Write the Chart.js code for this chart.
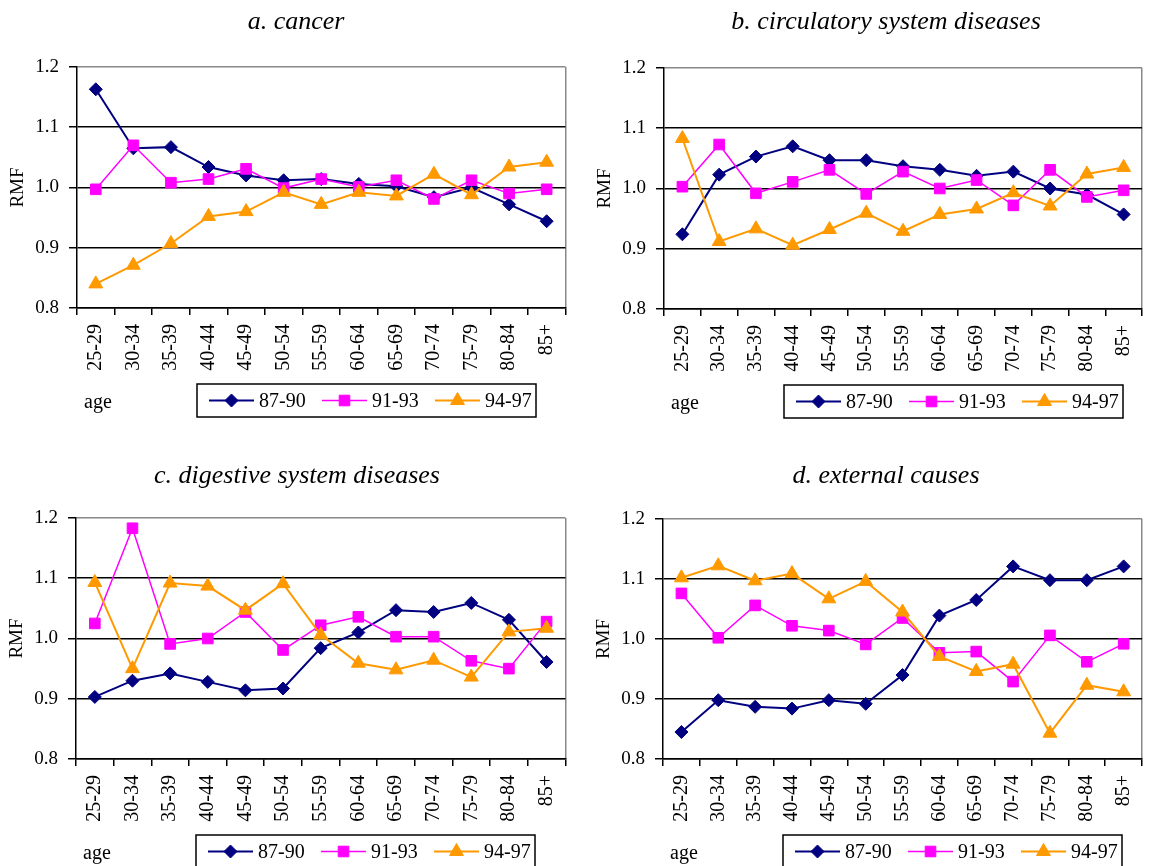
<!DOCTYPE html>
<html>
<head>
<meta charset="utf-8">
<script src="https://cdn.jsdelivr.net/npm/chart.js@4.4.1/dist/chart.umd.min.js"></script>
<style>
  html, body { margin: 0; padding: 0; background: #fff; }
  #wrap { position: relative; width: 1157px; height: 866px; overflow: hidden; }
  .panel { position: absolute; }
</style>
</head>
<body>
<div id="wrap">
  <div class="panel" style="left:0;top:0;width:580px;height:450px"><canvas id="chart-a"></canvas></div>
  <div class="panel" style="left:580px;top:0;width:577px;height:450px"><canvas id="chart-b"></canvas></div>
  <div class="panel" style="left:0;top:450px;width:580px;height:416px"><canvas id="chart-c"></canvas></div>
  <div class="panel" style="left:580px;top:450px;width:577px;height:416px"><canvas id="chart-d"></canvas></div>
</div>
<script>
const AGE_GROUPS = ['25-29', '30-34', '35-39', '40-44', '45-49', '50-54', '55-59',
  '60-64', '65-69', '70-74', '75-79', '80-84', '85+'];
const PERIODS = ['87-90', '91-93', '94-97'];
const Y_MIN = 0.8, Y_MAX = 1.2, Y_STEP = 0.1;

// a. cancer
const cancer8790 = [1.163, 1.065, 1.067, 1.034, 1.020, 1.012, 1.014, 1.006, 1.002, 0.984, 1.000, 0.972, 0.944];
const cancer9193 = [0.997, 1.070, 1.008, 1.014, 1.031, 0.999, 1.014, 1.001, 1.012, 0.981, 1.012, 0.990, 0.997];
const cancer9497 = [0.840, 0.871, 0.907, 0.952, 0.960, 0.992, 0.972, 0.992, 0.986, 1.022, 0.988, 1.034, 1.042];

// b. circulatory system diseases
const circ8790 = [0.924, 1.023, 1.053, 1.070, 1.047, 1.047, 1.037, 1.031, 1.021, 1.028, 1.000, 0.990, 0.957];
const circ9193 = [1.003, 1.073, 0.992, 1.011, 1.031, 0.991, 1.028, 1.000, 1.014, 0.972, 1.031, 0.986, 0.997];
const circ9497 = [1.083, 0.912, 0.933, 0.906, 0.932, 0.959, 0.929, 0.957, 0.966, 0.993, 0.971, 1.024, 1.035];

// c. digestive system diseases
const dig8790 = [0.903, 0.930, 0.942, 0.928, 0.914, 0.917, 0.984, 1.010, 1.047, 1.044, 1.059, 1.031, 0.961];
const dig9193 = [1.025, 1.183, 0.991, 1.000, 1.044, 0.981, 1.022, 1.036, 1.003, 1.003, 0.963, 0.950, 1.028];
const dig9497 = [1.093, 0.950, 1.092, 1.087, 1.047, 1.091, 1.006, 0.959, 0.948, 0.964, 0.936, 1.011, 1.017];

// d. external causes
const ext8790 = [0.845, 0.898, 0.887, 0.884, 0.898, 0.892, 0.940, 1.039, 1.065, 1.121, 1.098, 1.098, 1.121];
const ext9193 = [1.076, 1.002, 1.056, 1.022, 1.014, 0.991, 1.035, 0.977, 0.979, 0.929, 1.006, 0.962, 0.992];
const ext9497 = [1.102, 1.122, 1.097, 1.109, 1.067, 1.096, 1.045, 0.971, 0.946, 0.958, 0.843, 0.923, 0.912];

const SERIES_STYLE = [
  { color: '#000080', pointStyle: 'rectRot', radius: 6.5, width: 2 },
  { color: '#FF00FF', pointStyle: 'rect', radius: 7.5, width: 1.5 },
  { color: '#FF9900', pointStyle: 'triangle', radius: 8, width: 2 },
];

const SERIF = '"Liberation Serif", "Times New Roman", serif';

// panel frames, in each canvas' own pixels
const panels = [
  { id: 'chart-a', title: 'a. cancer', series: [cancer8790, cancer9193, cancer9497],
    w: 580, h: 450, plot: { left: 77, right: 572, top: 67, bottom: 308 }, titleX: 296, titleY: 29 },
  { id: 'chart-b', title: 'b. circulatory system diseases', series: [circ8790, circ9193, circ9497],
    w: 577, h: 450, plot: { left: 84, right: 574, top: 68, bottom: 309 }, titleX: 306, titleY: 29 },
  { id: 'chart-c', title: 'c. digestive system diseases', series: [dig8790, dig9193, dig9497],
    w: 580, h: 416, plot: { left: 76, right: 569, top: 68, bottom: 309 }, titleX: 297, titleY: 33 },
  { id: 'chart-d', title: 'd. external causes', series: [ext8790, ext9193, ext9497],
    w: 577, h: 416, plot: { left: 83, right: 573, top: 69, bottom: 309 }, titleX: 306, titleY: 33 },
];

const X_AXIS_H = 70;

const panelDecor = {
  id: 'panelDecor',
  afterDraw(chart, args, o) {
    const { ctx, chartArea } = chart;
    ctx.save();
    ctx.fillStyle = '#000';
    ctx.textBaseline = 'alphabetic';
    ctx.textAlign = 'center';
    ctx.font = 'italic 26px ' + SERIF;
    ctx.fillText(o.title, o.titleX, o.titleY);

    ctx.textAlign = 'left';
    ctx.font = '20px ' + SERIF;
    ctx.fillText('age', chartArea.left + 7, chartArea.bottom + 100);

    const bx = chartArea.left + 120, by = chartArea.bottom + 76, bw = 339, bh = 33;
    ctx.strokeStyle = '#000';
    ctx.lineWidth = 1.5;
    ctx.strokeRect(bx, by, bw, bh);

    chart.data.datasets.forEach((ds, i) => {
      const x0 = bx + 12 + i * 113;
      const cy = by + bh / 2;
      ctx.strokeStyle = ds.borderColor;
      ctx.lineWidth = ds.borderWidth;
      ctx.beginPath();
      ctx.moveTo(x0, cy);
      ctx.lineTo(x0 + 45, cy);
      ctx.stroke();
      ctx.fillStyle = ds.pointBackgroundColor;
      ctx.lineWidth = 1;
      Chart.helpers.drawPoint(ctx, { pointStyle: ds.pointStyle, radius: ds.pointRadius, borderWidth: 1, rotation: 0 }, x0 + 22.5, cy);
      ctx.fillStyle = '#000';
      ctx.fillText(ds.label, x0 + 50, by + 23);
    });
    ctx.restore();
  }
};
Chart.register(panelDecor);

function buildPanel(p) {
  return new Chart(document.getElementById(p.id), {
    type: 'line',
    data: {
      labels: AGE_GROUPS,
      datasets: p.series.map((values, i) => ({
        label: PERIODS[i],
        data: values,
        borderColor: SERIES_STYLE[i].color,
        backgroundColor: SERIES_STYLE[i].color,
        pointBackgroundColor: SERIES_STYLE[i].color,
        pointBorderColor: SERIES_STYLE[i].color,
        pointStyle: SERIES_STYLE[i].pointStyle,
        pointRadius: SERIES_STYLE[i].radius,
        pointBorderWidth: 1,
        borderWidth: SERIES_STYLE[i].width,
        tension: 0,
        fill: false,
        order: 3 - i,
      }))
    },
    options: {
      responsive: true,
      maintainAspectRatio: false,
      animation: false,
      events: [],
      layout: {
        padding: {
          left: 0,
          right: p.w - p.plot.right,
          top: p.plot.top,
          bottom: p.h - p.plot.bottom - X_AXIS_H
        }
      },
      scales: {
        x: {
          offset: true,
          afterFit: s => { s.height = X_AXIS_H; },
          grid: {
            offset: true,
            drawOnChartArea: true,
            color: c => c.type === 'tick' ? 'rgba(0,0,0,0)' : '#888',
            tickColor: '#000',
            tickLength: 7,
            lineWidth: 1.5
          },
          border: { color: '#000', width: 1.5 },
          ticks: {
            autoSkip: false,
            minRotation: 90,
            maxRotation: 90,
            padding: 9,
            color: '#000',
            font: { family: SERIF, size: 20 }
          }
        },
        y: {
          min: Y_MIN,
          max: Y_MAX,
          afterFit: s => { s.width = p.plot.left; },
          grid: {
            color: c => Math.abs(c.tick.value - Y_MAX) < 1e-6 ? '#888' : '#000',
            tickColor: '#000',
            tickLength: 8,
            lineWidth: 1.5
          },
          border: { color: '#000', width: 1.5 },
          ticks: {
            stepSize: Y_STEP,
            padding: 10,
            color: '#000',
            font: { family: SERIF, size: 19 },
            callback: v => v.toFixed(1)
          },
          title: {
            display: true,
            text: 'RMF',
            color: '#000',
            font: { family: SERIF, size: 19 },
            padding: { top: p.plot.left - 59 - 11.4, bottom: 0 }
          }
        }
      },
      plugins: {
        legend: { display: false },
        tooltip: { enabled: false },
        title: { display: false },
        panelDecor: { title: p.title, titleX: p.titleX, titleY: p.titleY }
      }
    }
  });
}

const charts = panels.map(buildPanel);
</script>
</body>
</html>
